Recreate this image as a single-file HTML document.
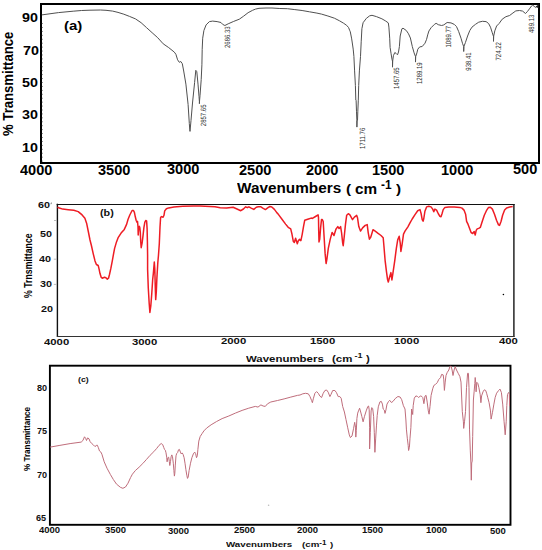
<!DOCTYPE html>
<html><head><meta charset="utf-8">
<style>
html,body{margin:0;padding:0;background:#fff;}
body{width:542px;height:550px;position:relative;overflow:hidden;font-family:"Liberation Sans",sans-serif;}
.t{position:absolute;white-space:nowrap;font-weight:bold;color:#000;line-height:1;}
.s{position:absolute;white-space:nowrap;font-weight:bold;color:#111;line-height:1;transform-origin:0 0;transform:scaleY(0.79);}
.f{position:absolute;white-space:nowrap;line-height:1;transform-origin:0 0;}
.pk{position:absolute;white-space:nowrap;line-height:1;font-size:7.6px;color:#3a3a3a;transform-origin:0 0;transform:rotate(-90deg) scaleX(0.79);}
svg{position:absolute;left:0;top:0;}
</style></head><body>
<svg width="542" height="550" viewBox="0 0 542 550">
<rect x="41" y="4" width="498" height="159" fill="none" stroke="#000" stroke-width="2"/>
<path d="M56.7 204.45H514.6" stroke="#111" stroke-width="1.15"/>
<path d="M57.4 203.7V337" stroke="#111" stroke-width="1.4"/>
<path d="M513.9 203.9V337" stroke="#151515" stroke-width="1.4"/>
<path d="M57 336.45H514.4" stroke="#333" stroke-width="1.05"/>
<path d="M51.4 202.6 L51 204.2" stroke="#666" stroke-width="0.9"/>
<path d="M54 220.5H56.6M53.8 259.2H56.6M53.8 284.4H56.6" stroke="#aaa" stroke-width="0.8"/>
<path d="M42.4 23.1V162" stroke="#777" stroke-width="1" stroke-dasharray="0.9 3.03"/>
<circle cx="268.6" cy="505.2" r="0.8" fill="#bbb"/>
<circle cx="503.4" cy="294.5" r="0.8" fill="#000"/>
<rect x="49.9" y="365.7" width="460.6" height="159.1" fill="none" stroke="#000" stroke-width="1.9"/>
<polyline fill="none" stroke="#505050" stroke-width="1" stroke-linejoin="round" points="41.8,14.9 58.5,12.6 73.2,11.2 81.5,10.5 90,10.2 100.5,10 106,10.3 112.7,11.1 118,12.4 123.8,14.2 129.5,16.4 135.5,18.9 141.1,22.7 146.6,27.7 152.1,32.7 157.7,37.7 163.2,43.8 168.7,47.6 174.3,52.1 175.9,54.3 177.6,59.8 179.3,62.3 180.8,61.5 182.3,63.7 183.7,71 185.9,84.1 188.1,104.5 189.3,123.4 189.8,129.9 190,131.4 190.3,128 191,120.5 192.5,103 194.6,82.6 195.8,70.3 196.8,71.7 198,84.1 199,96.5 199.4,101.5 199.4,103.7 199.6,100 200,95.7 201.2,79.7 201.9,64.8 202.2,49.3 202.7,38.2 203.9,30.5 206.1,24.9 209.4,21.6 212.7,21.1 217.1,21.6 221,22.5 222.7,24.4 224.9,25.5 228.2,23.8 233.7,21.4 239.3,19.2 243.7,16.1 248.1,12.7 252.6,10.3 255.5,9.1 259,8.3 266,8.0 272,8.0 279.8,8.5 287.4,8.7 294.8,9.6 302.1,10.5 309.5,11.8 316.9,13.1 321.5,14.1 327.9,16 334.4,18.2 339.5,20.8 343.4,23.1 346.6,25.3 348.6,27.6 349.6,30.2 350.3,31.8 351.7,38.9 353.2,49.1 353.9,56.4 354.6,70.9 355.4,85.5 355.8,100 356.1,100.2 356.5,111.8 356.8,119.1 356.9,127.1 357.1,121 357.5,120.5 357.8,111.8 358.3,100.2 358.7,85.5 359.4,70.9 360.5,56.4 361.2,41.8 361.9,28.7 363.1,22.7 366.4,18.3 369.7,15.8 372,15.3 376.4,16.6 381.9,18.8 385.8,21.1 388.3,22.9 388.9,27.1 389.7,38.2 390.1,47.4 391.1,53.8 392,59.4 392.5,61.2 392.5,67.2 392.7,61 393.4,55.7 394.8,52.5 396.1,53.4 397.5,54.8 398.5,52 399.4,46.5 400.2,36 401.9,28.8 403,28.2 406.3,30.5 408.5,33.8 410.4,38 412.3,46.5 414.1,52.9 415.5,56.6 415.5,62.1 415.7,56.6 416.9,52.9 417.8,49.2 419.7,46.9 422.2,46.5 425,43.2 426.6,39.3 427.7,34.9 428.9,31 431.1,27.7 434.4,24.4 436.1,23.3 438.3,24.7 441.6,25.5 443.8,24.9 447.1,22.5 451,22.9 454.3,24.4 456.5,26.6 458.7,31.6 461,38.2 462.6,43.7 463.7,46.5 463.7,51.5 463.9,46.5 465.4,42.6 467.6,36 469.8,30.5 472,27.1 475.4,24.4 478.7,22.2 482.4,21.3 486.1,21.6 488.6,23.5 490.5,27.2 492.3,32.8 493.5,36.5 493.5,41.4 493.7,36 494.8,30.9 496.6,26 499.1,23.5 502.2,19.2 505.9,16.7 509.6,15.5 512.1,13.6 515.8,10.9 519.5,10.5 522.6,11.1 525.5,13.5 527.5,11.4 529.4,8.9 531.6,5.9 532.7,5.2 534.2,6.3 535.3,7.4 536.8,6.8 538,5.5"/>
<polygon points="535.6,6.6 538.6,4.6 538.6,8.6" fill="#222"/>
<polyline fill="none" stroke="#ee1c24" stroke-width="1.5" stroke-linejoin="round" points="57.4,207.2 59.4,208 62.7,209.1 68.3,209.7 73.8,210.3 78.2,211.6 82.1,214.9 84.9,218.3 86.6,223.2 88.2,231 90,240 91.4,245.5 93.2,253.6 95,260.9 96.4,264.5 98.2,265.5 99.1,269.1 100,273.6 101.2,277.3 102.3,278.2 104.5,277.3 105.9,277.7 107.3,279.1 108.5,278.2 109.5,274.5 110.9,268.2 112.3,260.9 113.6,253.6 114.6,248.4 116.5,241.9 118.3,237.3 121.1,233.1 124.3,229.4 126.6,224.4 128,219.5 129.8,215 132.1,210.5 133.5,210.5 134.4,212.3 135.3,216.8 136.2,220.5 137.1,222.3 137.5,221.4 138,226.8 138.2,235 138.7,226.8 139.4,226.4 139.8,227.7 140.3,232.3 140.7,241.4 141.2,247.7 142.1,243.2 143,235.9 143.9,227.7 144.8,222.3 145.7,220.5 146.6,220.9 147.1,228.6 147.4,241.4 147.6,255 147.6,269.1 148.3,288.2 149.2,303.5 149.9,312.4 150.8,306 151.7,294.5 152.7,279.3 153.4,272.9 154.3,262.1 154.8,269.1 155.3,288.2 155.7,299.6 156.3,292 156.9,278 157.8,262.7 158.5,255 159.3,243.7 160,227.3 160.6,217.5 161.5,216.6 163.1,217.2 164,215.3 164.7,210.9 166.4,208.7 168.6,207.9 174,207.1 182.8,206.3 193.7,206 200,206 215,206.8 220.2,207.7 226.6,208.1 233.1,207.3 237,209 240.8,210.7 243.4,209 245.7,206.8 247.3,207.7 248.9,206.8 251.2,208.1 253.8,209.4 256.3,207.3 258.3,206.8 260.9,206.8 262.8,208.1 265.4,209.6 268,207.7 269.9,206.5 271.8,207 274.4,209.4 277,212.9 278,213.9 281.8,219 285.6,224.1 288.2,227.3 290.7,228.9 292,234.3 293.3,241.3 294.3,242.5 295.6,238.3 296.5,241.3 297.3,243.8 298.4,240.6 299.6,239.4 300.9,240.6 302.2,234.3 303.5,226.6 304.7,220.3 308.5,219 311.1,218.1 312.4,218.4 315.5,216.5 318.1,214.9 318.5,217.7 318.7,230.5 319,241.9 319.7,239.4 320.6,227.9 321.5,219.6 322.3,219.6 323.2,221.5 324.1,236.8 325.1,253.4 326.1,263.5 327,258.5 328.3,248.3 330.2,239.4 332.1,232.4 334,235.5 335.9,229.2 337.8,226.6 339.1,228.5 340.6,226.6 341.6,233 342.7,243.2 343.2,245.7 344.2,236.8 345.5,224.1 346.7,215.2 348.3,213.7 349.9,214.9 352.5,219.6 354.4,217.1 356.7,215.4 357.5,217.7 358.8,226.6 360.5,231.1 362.6,227.9 365.2,225.4 367.2,224.6 368.2,232.6 369.4,239.2 370.8,237 373,229.7 375.2,231.2 378.1,233.4 381,235.5 383.2,237.7 383.9,245.7 385.1,260.3 386.5,271.9 387.5,279.2 388.3,282.1 389.4,277.7 390.9,272.6 391.9,279.9 392.9,273.4 394.8,260.3 396.3,248.6 397.7,239.9 399.2,236.3 400.2,242.8 400.9,251.5 402.1,244.3 403.5,234.1 405,231.2 407.9,226.8 410,222.9 412.2,219 415,214.6 417.7,210.7 420,209.6 421.1,213.5 422.2,219.6 423.1,221.2 423.8,218.5 424.9,211.3 426.6,206.9 428.8,206.3 431,206.9 432.7,209.1 433.8,211.8 434.9,209.1 436.6,210.2 438.2,213.5 439.9,216.3 441,216.8 442.1,213.5 443.2,209.6 444.9,207.4 448.7,206.9 454.3,206.9 459.8,207.4 462,208.1 464,210.1 465.6,214.2 466.6,221.3 468.1,224.4 469.6,228.4 471.1,232.5 472.7,233.5 474.2,231.5 475.2,235 476.2,230.4 477.2,228.9 478.7,228.4 480.3,227.4 482.3,221.3 484.3,215.2 486.4,210.7 488.4,207.6 490.4,207.3 492.4,209.1 494.5,214.2 496.5,220.3 498.5,224.9 499.5,225.4 501.1,221.3 502.6,215.2 504.6,210.1 506.6,207.9 509.7,207.1 512.7,206.6"/>
<polyline fill="none" stroke="#bf6d7b" stroke-width="1" stroke-linejoin="round" points="50.2,447.1 59.1,445.5 70.1,443.6 81.2,442.1 82.9,440.5 84.5,436.8 85.6,438.3 86.5,440.5 87.6,437.9 89,438.8 90.1,441.6 91.7,443.5 93.4,444.9 95,446.6 96.2,445.5 97.3,445.2 98.4,447.7 99.5,451 100.9,452.1 101.9,454.2 104.2,461.8 107,468.2 110.4,474.5 113.4,479.6 116.5,484.1 120.4,487.3 122.9,488.3 125.5,487 128,483.2 130.6,477.5 132.4,474.2 135.4,470.5 139.1,467.2 142.8,463.5 146.5,459.4 150.1,455.3 153.8,451.7 156.8,448.3 159,445.4 161.2,443.5 162.7,444.6 163.8,447.6 164.5,449.4 165.3,450.2 166,452.8 166.7,457.2 167.1,461.8 167.9,457.7 168.7,457.2 169.3,461.4 169.8,465.5 170.5,461.4 171.1,456.8 171.8,454.9 172.5,456.8 173.3,463.2 173.9,470.6 174.4,476.1 174.8,473.4 175.3,465.1 176,455.8 176.7,453.5 177.6,452.6 178.5,449.8 179.4,449.4 180.4,452.1 181.3,454 182.2,452.9 183.1,454.4 184.1,457.7 185,463.2 185.9,469.7 186.8,475.2 187.5,478.4 188.2,477 189.1,470.6 190.5,463.2 191.9,457.7 193.3,454 194.7,452.1 195.6,453.5 196.5,457.7 197.3,455.8 197.9,449.4 198.8,441.1 200.2,436.5 202,433.7 203.9,430.9 206.6,428.1 211.1,424.8 216.6,421.5 222.1,418.6 228.8,416 235.4,413.1 242.1,410.4 248.7,408.2 255.3,406.4 258,407.1 260.9,404.9 263.1,406 265.3,406.4 267.5,403.8 270.8,402 277.5,400.5 284.1,398.9 290.8,397.1 297.4,395.4 300,395 302.8,393.8 305.5,393.3 308.3,393.8 310,396.6 311.6,400.5 312.4,402.7 313.3,398.8 314.9,393.3 316.6,391.6 318.3,393.3 319.9,396.1 321.6,397.5 323.2,393.3 324.9,390.5 326.6,390 328.2,392.2 329.9,396.6 331,394.4 332.7,390.5 334.9,390.5 336.5,392.7 338.2,396.6 339.9,396.6 341.2,398.3 342.7,406.5 344.4,412 346,419.6 347.6,427.2 349.3,434.9 350.4,437.6 352,436 353.6,428.3 354.7,422.3 355.5,427.2 355.8,437.1 356.3,430.5 356.9,418.5 357.7,413.1 358.5,410.9 359.6,408.2 360.7,412 361.8,416.3 363.1,421.8 364.5,416.3 366.2,410.9 367.8,406.5 368.6,406 369.2,409.8 369.6,427.2 369.6,449 370.3,432.7 371.1,410.9 371.8,407.6 372.7,408.7 373.6,416.3 374.3,432.7 374.9,452.3 375.7,438.1 376.5,425.1 377.2,415.6 378.3,406.8 379.9,401.9 381.3,401.4 382.4,404.1 383.2,409 384.3,410.1 385,413.4 385.9,410.1 387,404.1 388.6,401.4 389.7,400.3 391.4,402.5 393,401.4 395.2,398.6 397.9,396.5 400.1,397 401.7,399.7 403.4,405.7 405,409 405.9,420 406.4,429.1 407.3,438.2 408.2,445.5 408.6,450.5 409.4,447.3 410,438.2 410.9,427.3 411.6,409 412.7,414.5 413.2,405.7 414.3,398.1 415.9,395.9 417.6,396.5 418.7,397.6 420.3,395.9 421.9,396.5 422.8,397.6 423.9,403.7 425,396 426.1,395.4 427.2,402.1 428.3,410.9 429.1,414.2 430,406.5 431.1,395.4 432.7,388.8 433.8,385.5 435.5,384.4 437.2,382.7 438.8,379.4 440.5,377.7 441.6,374.4 443.2,374.9 443.8,379.9 444.4,390.4 445.2,382.1 446,375.5 447.1,372.7 448.8,370 449.9,366.6 451,366.1 452.1,370 453,375.5 454.1,370 455.2,366.6 456.5,370 458.2,373.3 459.9,376.6 461,382.1 462.3,411.6 463.4,421.8 463.7,428.4 464.5,421.8 465.5,411.6 466.5,387.7 467.6,373.3 468.4,373.3 469,387.7 469.5,429.1 470.3,450.9 470.9,463 471.3,480.2 471.7,463 472.2,461.1 472.7,436.4 473.4,400 474.1,391.8 474.8,383.6 475.2,377.5 475.7,382.3 476.1,391.8 476.8,382.3 477.9,383.6 478.9,387.7 480.2,394.6 480.9,402.7 481.6,395.9 483,391.8 484.3,389.8 485.7,390.5 486.6,393.2 487.7,397.3 489.1,402.7 490.5,410.9 491.1,419.1 492.5,412.3 493.9,404.1 495.2,397.3 496.6,393.2 498.6,390.5 500,389.1 501.4,392.5 502.7,404.1 504.1,421.8 505.2,434.8 506.2,421.8 506.8,405.5 507.5,394.6 508.5,392.5 509.3,393.6 509.5,400 509.5,406"/>
<g font-family="Liberation Sans" font-size="7.6" fill="#2e2e2e" text-rendering="geometricPrecision">
<text transform="translate(206.38,126.20) rotate(-90) scale(0.79,1)">2857.65</text>
<text transform="translate(230.38,48.00) rotate(-90) scale(0.79,1)">2686.33</text>
<text transform="translate(364.88,149.00) rotate(-90) scale(0.79,1)">1711.76</text>
<text transform="translate(398.88,89.00) rotate(-90) scale(0.79,1)">1457.65</text>
<text transform="translate(421.88,84.00) rotate(-90) scale(0.79,1)">1289.19</text>
<text transform="translate(450.88,47.50) rotate(-90) scale(0.79,1)">1089.77</text>
<text transform="translate(470.88,70.70) rotate(-90) scale(0.79,1)">938.41</text>
<text transform="translate(500.88,60.50) rotate(-90) scale(0.79,1)">724.22</text>
<text transform="translate(534.38,33.00) rotate(-90) scale(0.79,1)">489.13</text>
</g>
</svg>

<!-- chart a labels -->
<div class="t" style="left:1.3px;top:135.5px;font-size:14.6px;transform-origin:0 0;transform:rotate(-90deg) scaleX(0.9);">% Transmittance</div>


<!-- chart b labels -->
<div class="t" style="left:23px;top:298px;font-size:11.5px;transform-origin:0 0;transform:rotate(-90deg) scaleX(0.76);">% Trnsmittance</div>

<!-- chart c labels -->
<div class="t" style="left:22px;top:471px;font-size:9.4px;transform-origin:0 0;transform:rotate(-90deg) scaleX(0.86);">% Transmittance</div>

<div class="f" style="left:22.30px;top:10.50px;font-size:13px;font-weight:bold;color:#000;transform:matrix(1.1000,0,0,1.0000,0,0)">90</div>
<div class="f" style="left:22.50px;top:43.85px;font-size:13px;font-weight:bold;color:#000;transform:matrix(1.1000,0,0,1.0000,0,0)">70</div>
<div class="f" style="left:21.95px;top:75.80px;font-size:13px;font-weight:bold;color:#000;transform:matrix(1.1000,0,0,1.0000,0,0)">50</div>
<div class="f" style="left:22.05px;top:107.65px;font-size:13px;font-weight:bold;color:#000;transform:matrix(1.1000,0,0,1.0000,0,0)">30</div>
<div class="f" style="left:22.25px;top:141.25px;font-size:13px;font-weight:bold;color:#000;transform:matrix(1.1000,0,0,1.0000,0,0)">10</div>
<div class="f" style="left:20.43px;top:162.60px;font-size:14px;font-weight:bold;color:#000;transform:matrix(1.0400,0,0,1.0000,0,0)">4000</div>
<div class="f" style="left:98.13px;top:162.60px;font-size:14px;font-weight:bold;color:#000;transform:matrix(1.0400,0,0,1.0000,0,0)">3500</div>
<div class="f" style="left:166.63px;top:161.60px;font-size:14px;font-weight:bold;color:#000;transform:matrix(1.0400,0,0,1.0000,0,0)">3000</div>
<div class="f" style="left:238.53px;top:163.30px;font-size:14px;font-weight:bold;color:#000;transform:matrix(1.0400,0,0,1.0000,0,0)">2500</div>
<div class="f" style="left:305.98px;top:162.60px;font-size:14px;font-weight:bold;color:#000;transform:matrix(1.0400,0,0,1.0000,0,0)">2000</div>
<div class="f" style="left:372.21px;top:162.60px;font-size:14px;font-weight:bold;color:#000;transform:matrix(1.0400,0,0,1.0000,0,0)">1500</div>
<div class="f" style="left:440.81px;top:162.60px;font-size:14px;font-weight:bold;color:#000;transform:matrix(1.0400,0,0,1.0000,0,0)">1000</div>
<div class="f" style="left:513.22px;top:162.25px;font-size:14px;font-weight:bold;color:#000;transform:matrix(1.0400,0,0,1.0000,0,0)">500</div>
<div class="f" style="left:64.40px;top:19.74px;font-size:12.5px;font-weight:bold;color:#000;transform:matrix(1.2000,0,0,0.9800,0,0)">(a)</div>
<div class="f" style="left:236.96px;top:181.14px;font-size:13.5px;font-weight:bold;color:#000;transform:matrix(1.1350,0,0,1.0700,0,0)">Wavenumbers</div>
<div class="f" style="left:345.56px;top:182.10px;font-size:13.5px;font-weight:bold;color:#000;transform:matrix(1.1350,0,0,1.0000,0,0)">(</div>
<div class="f" style="left:355.02px;top:181.78px;font-size:13.5px;font-weight:bold;color:#000;transform:matrix(1.1350,0,0,1.0700,0,0)">cm</div>
<div class="f" style="left:380.77px;top:178.50px;font-size:12.5px;font-weight:bold;color:#000;transform:matrix(0.9500,0,0,1.0000,0,0)">-1</div>
<div class="f" style="left:396.33px;top:182.10px;font-size:13.5px;font-weight:bold;color:#000;transform:matrix(1.1350,0,0,1.0000,0,0)">)</div>
<div class="f" style="left:37.72px;top:201.40px;font-size:11px;font-weight:bold;color:#111;transform:matrix(0.9800,0,0,0.7400,0,0)">60</div>
<div class="f" style="left:40.27px;top:230.40px;font-size:11px;font-weight:bold;color:#111;transform:matrix(0.9800,0,0,0.7400,0,0)">50</div>
<div class="f" style="left:38.97px;top:254.50px;font-size:11px;font-weight:bold;color:#111;transform:matrix(0.9800,0,0,0.7400,0,0)">40</div>
<div class="f" style="left:40.02px;top:279.80px;font-size:11px;font-weight:bold;color:#111;transform:matrix(0.9800,0,0,0.7400,0,0)">30</div>
<div class="f" style="left:41.22px;top:305.35px;font-size:11px;font-weight:bold;color:#111;transform:matrix(0.9800,0,0,0.7400,0,0)">20</div>
<div class="f" style="left:44.29px;top:337.55px;font-size:11px;font-weight:bold;color:#111;transform:matrix(1.0300,0,0,0.8200,0,0)">4000</div>
<div class="f" style="left:131.99px;top:337.55px;font-size:11px;font-weight:bold;color:#111;transform:matrix(1.0300,0,0,0.8200,0,0)">3000</div>
<div class="f" style="left:220.64px;top:337.30px;font-size:11px;font-weight:bold;color:#111;transform:matrix(1.0300,0,0,0.8200,0,0)">2000</div>
<div class="f" style="left:309.52px;top:336.95px;font-size:11px;font-weight:bold;color:#111;transform:matrix(1.0300,0,0,0.8200,0,0)">1500</div>
<div class="f" style="left:394.32px;top:336.80px;font-size:11px;font-weight:bold;color:#111;transform:matrix(1.0300,0,0,0.8200,0,0)">1000</div>
<div class="f" style="left:499.03px;top:337.15px;font-size:11px;font-weight:bold;color:#111;transform:matrix(1.0300,0,0,0.8200,0,0)">400</div>
<div class="f" style="left:99.54px;top:209.20px;font-size:11px;font-weight:bold;color:#111;transform:matrix(0.9800,0,0,0.8000,0,0)">(b)</div>
<div class="f" style="left:246.15px;top:353.70px;font-size:11px;font-weight:bold;color:#111;transform:matrix(1.0400,0,0,0.8800,0,0)">Wavenumbers</div>
<div class="f" style="left:331.97px;top:353.87px;font-size:11px;font-weight:bold;color:#111;transform:matrix(1.0400,0,0,0.8800,0,0)">(cm</div>
<div class="f" style="left:354.55px;top:351.55px;font-size:9px;font-weight:bold;color:#111;transform:matrix(1.0000,0,0,0.9000,0,0)">-1</div>
<div class="f" style="left:366.39px;top:353.87px;font-size:11px;font-weight:bold;color:#111;transform:matrix(1.0400,0,0,0.8800,0,0)">)</div>
<div class="f" style="left:77.70px;top:376.31px;font-size:9.5px;font-weight:bold;color:#111;transform:matrix(0.9273,0,0,0.7889,0,0)">(c)</div>
<div class="f" style="left:36.59px;top:384.21px;font-size:10px;font-weight:bold;color:#111;transform:matrix(0.9100,0,0,0.8600,0,0)">80</div>
<div class="f" style="left:37.09px;top:427.01px;font-size:10px;font-weight:bold;color:#111;transform:matrix(0.9100,0,0,0.8600,0,0)">75</div>
<div class="f" style="left:36.95px;top:471.11px;font-size:10px;font-weight:bold;color:#111;transform:matrix(0.9100,0,0,0.8600,0,0)">70</div>
<div class="f" style="left:35.79px;top:513.86px;font-size:10px;font-weight:bold;color:#111;transform:matrix(0.9100,0,0,0.8600,0,0)">65</div>
<div class="f" style="left:39.35px;top:526.19px;font-size:10px;font-weight:bold;color:#111;transform:matrix(0.9500,0,0,0.8400,0,0)">4000</div>
<div class="f" style="left:105.20px;top:526.19px;font-size:10px;font-weight:bold;color:#111;transform:matrix(0.9500,0,0,0.8400,0,0)">3500</div>
<div class="f" style="left:168.30px;top:526.69px;font-size:10px;font-weight:bold;color:#111;transform:matrix(0.9500,0,0,0.8400,0,0)">3000</div>
<div class="f" style="left:233.70px;top:526.49px;font-size:10px;font-weight:bold;color:#111;transform:matrix(0.9500,0,0,0.8400,0,0)">2500</div>
<div class="f" style="left:296.80px;top:525.79px;font-size:10px;font-weight:bold;color:#111;transform:matrix(0.9500,0,0,0.8400,0,0)">2000</div>
<div class="f" style="left:361.68px;top:526.34px;font-size:10px;font-weight:bold;color:#111;transform:matrix(0.9500,0,0,0.8400,0,0)">1500</div>
<div class="f" style="left:425.57px;top:526.49px;font-size:10px;font-weight:bold;color:#111;transform:matrix(0.9500,0,0,0.8400,0,0)">1000</div>
<div class="f" style="left:489.60px;top:526.64px;font-size:10px;font-weight:bold;color:#111;transform:matrix(0.9500,0,0,0.8400,0,0)">500</div>
<div class="f" style="left:226.35px;top:540.91px;font-size:10px;font-weight:bold;color:#111;transform:matrix(0.9750,0,0,0.7600,0,0)">Wavenumbers</div>
<div class="f" style="left:301.56px;top:541.30px;font-size:10px;font-weight:bold;color:#111;transform:matrix(0.9750,0,0,0.7600,0,0)">(cm</div>
<div class="f" style="left:319.30px;top:539.85px;font-size:8px;font-weight:bold;color:#111;transform:matrix(1.0000,0,0,0.8000,0,0)">-1</div>
<div class="f" style="left:330.44px;top:541.30px;font-size:10px;font-weight:bold;color:#111;transform:matrix(0.9750,0,0,0.7600,0,0)">)</div>
</body></html>
